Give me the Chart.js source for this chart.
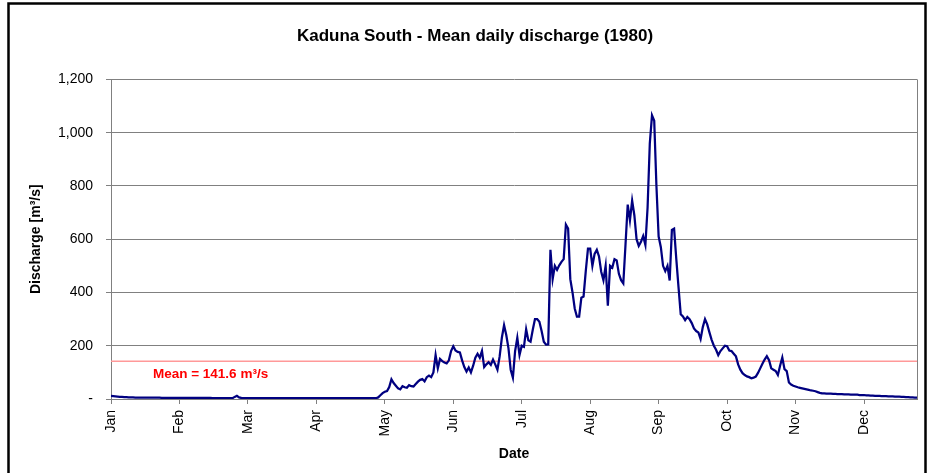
<!DOCTYPE html>
<html>
<head>
<meta charset="utf-8">
<title>Kaduna South - Mean daily discharge (1980)</title>
<script src="https://cdn.jsdelivr.net/npm/chart.js@4.4.1/dist/chart.umd.min.js"></script>
<style>
  html, body { margin: 0; padding: 0; background: #fff; }
  #wrap { width: 932px; height: 473px; }
</style>
</head>
<body>
<div id="wrap"><canvas id="dischargeChart" width="932" height="473"></canvas></div>
<script>
// tick labels every 31 days, as in the original spreadsheet chart
const monthLabels = ['Jan', 'Feb', 'Mar', 'Apr', 'May', 'Jun', 'Jul', 'Aug', 'Sep', 'Oct', 'Nov', 'Dec'];
const tickStepDays = 31;
const meanDischarge = 141.6;

// daily mean discharge [m3/s], 1 Jan .. 31 Dec 1980 (366 days)
const dailyDischarge = [
  12, 11, 10, 9, 8, 8, 7, 7, 6, 6,
  6, 5, 5, 5, 5, 5, 5, 5, 5, 5,
  5, 5, 5, 4, 4, 4, 4, 4, 4, 4,
  4, 4, 4, 4, 4, 4, 4, 4, 4, 4,
  4, 4, 4, 4, 4, 4, 3, 3, 3, 3,
  3, 3, 3, 3, 3, 3, 8, 12, 6, 4,
  3, 3, 3, 3, 3, 3, 3, 3, 3, 3,
  3, 3, 3, 3, 3, 3, 3, 3, 3, 3,
  3, 3, 3, 3, 3, 3, 3, 3, 3, 3,
  3, 3, 3, 3, 3, 3, 3, 3, 3, 3,
  3, 3, 3, 3, 3, 3, 3, 3, 3, 3,
  3, 3, 3, 3, 3, 3, 3, 3, 3, 3,
  3, 6, 14, 22, 27, 30, 45, 74, 60, 50,
  40, 36, 48, 44, 42, 52, 48, 47, 56, 65,
  72, 75, 66, 82, 88, 82, 100, 165, 115, 150,
  142, 137, 134, 145, 180, 198, 182, 177, 175, 145,
  120, 103, 118, 100, 125, 155, 170, 155, 180, 120,
  130, 138, 128, 148, 130, 110, 160, 230, 277, 240,
  190, 110, 80, 180, 230, 165, 200, 196, 262, 220,
  215, 260, 300, 300, 290, 255, 215, 204, 205, 560,
  450, 500, 485, 502, 515, 525, 655, 640, 450, 400,
  340, 309, 309, 380, 385, 480, 565, 565, 500, 545,
  560, 535, 478, 446, 500, 350, 500, 493, 525, 520,
  470, 446, 434, 580, 730, 671, 745, 690, 600, 575,
  590, 612, 578, 720, 960, 1065, 1045, 800, 610, 570,
  500, 480, 500, 445, 635, 640, 525, 420, 318, 310,
  296, 308, 300, 285, 265, 255, 250, 225, 270, 300,
  280, 250, 222, 200, 185, 165, 180, 190, 200, 198,
  182, 180, 170, 160, 130, 110, 97, 90, 85, 82,
  78, 80, 84, 98, 115, 132, 148, 161, 146, 115,
  110, 105, 90, 125, 156, 112, 105, 62, 54, 50,
  47, 44, 42, 40, 38, 36, 34, 32, 31, 29,
  26, 23, 21, 21, 20, 20, 20, 19, 19, 18,
  18, 18, 17, 17, 17, 16, 16, 16, 16, 15,
  15, 15, 14, 14, 13, 13, 12, 12, 12, 11,
  11, 11, 10, 10, 10, 9, 9, 9, 8, 8,
  7, 7, 6, 6, 5, 5
];

const FONT = '"Liberation Sans", Arial, sans-serif';
Chart.defaults.font.family = FONT;
Chart.defaults.color = '#000';

const lastDay = dailyDischarge.length - 1;

// white page, Excel-like frame, plot border and the mean label
const framePlugin = {
  id: 'frame',
  beforeDraw(chart) {
    const ctx = chart.ctx;
    ctx.save();
    ctx.fillStyle = '#fff';
    ctx.fillRect(0, 0, chart.width, chart.height);
    ctx.restore();
  },
  afterDraw(chart) {
    const { ctx, chartArea: a, scales } = chart;
    ctx.save();
    ctx.strokeStyle = '#808080';
    ctx.lineWidth = 1;
    ctx.beginPath();
    ctx.moveTo(a.right + 0.5, a.top);
    ctx.lineTo(a.right + 0.5, a.bottom);
    ctx.stroke();

    ctx.strokeStyle = '#000';
    ctx.lineWidth = 2.5;
    ctx.strokeRect(8.5, 3.5, 917, 490);

    const lx = scales.x.getPixelForValue(19);
    const ly = scales.y.getPixelForValue(meanDischarge) + 13;
    ctx.fillStyle = '#ff0000';
    ctx.font = 'bold 13.5px ' + FONT;
    ctx.textBaseline = 'middle';
    ctx.fillText('Mean = ' + meanDischarge + ' m³/s', lx, ly);
    ctx.restore();
  }
};

new Chart(document.getElementById('dischargeChart').getContext('2d'), {
  type: 'line',
  data: {
    datasets: [
      {
        label: 'Discharge',
        data: dailyDischarge.map((v, i) => ({ x: i, y: v })),
        borderColor: '#000080',
        borderWidth: 2.25,
        pointRadius: 0,
        tension: 0,
        fill: false
      },
      {
        label: 'Mean',
        data: [{ x: 0, y: meanDischarge }, { x: lastDay, y: meanDischarge }],
        borderColor: '#ff9999',
        borderWidth: 1.5,
        pointRadius: 0,
        fill: false
      }
    ]
  },
  options: {
    responsive: false,
    animation: false,
    devicePixelRatio: 1,
    layout: { padding: { left: 33, right: 15, top: 0, bottom: 0 } },
    plugins: {
      legend: { display: false },
      tooltip: { enabled: false },
      title: {
        display: true,
        text: 'Kaduna South - Mean daily discharge (1980)',
        color: '#000',
        font: { size: 17, weight: 'bold' },
        padding: { top: 26, bottom: 33 }
      }
    },
    scales: {
      x: {
        type: 'linear',
        min: 0,
        max: lastDay,
        afterFit: (scale) => { scale.height = 74; },
        ticks: {
          stepSize: tickStepDays,
          includeBounds: false,
          autoSkip: false,
          minRotation: 90,
          maxRotation: 90,
          padding: 6,
          color: '#000',
          font: { size: 14 },
          callback: (v) => monthLabels[Math.round(v / tickStepDays)]
        },
        grid: { drawOnChartArea: false, drawTicks: true, tickLength: 5, color: '#808080' },
        border: { color: '#808080' },
        title: {
          display: true,
          text: 'Date',
          color: '#000',
          font: { size: 14, weight: 'bold' },
          padding: { top: 0, bottom: 10 }
        }
      },
      y: {
        min: 0,
        max: 1200,
        afterFit: (scale) => { scale.width = 78; },
        ticks: {
          stepSize: 200,
          padding: 13,
          color: '#000',
          font: { size: 14 },
          callback: (v) => v === 0 ? '-' : v.toLocaleString('en-US')
        },
        grid: { color: '#808080', tickLength: 5 },
        border: { color: '#808080' },
        title: {
          display: true,
          text: 'Discharge [m³/s]',
          color: '#000',
          font: { size: 14, weight: 'bold' },
          padding: { top: -5, bottom: 0 }
        }
      }
    }
  },
  plugins: [framePlugin]
});
</script>
</body>
</html>
